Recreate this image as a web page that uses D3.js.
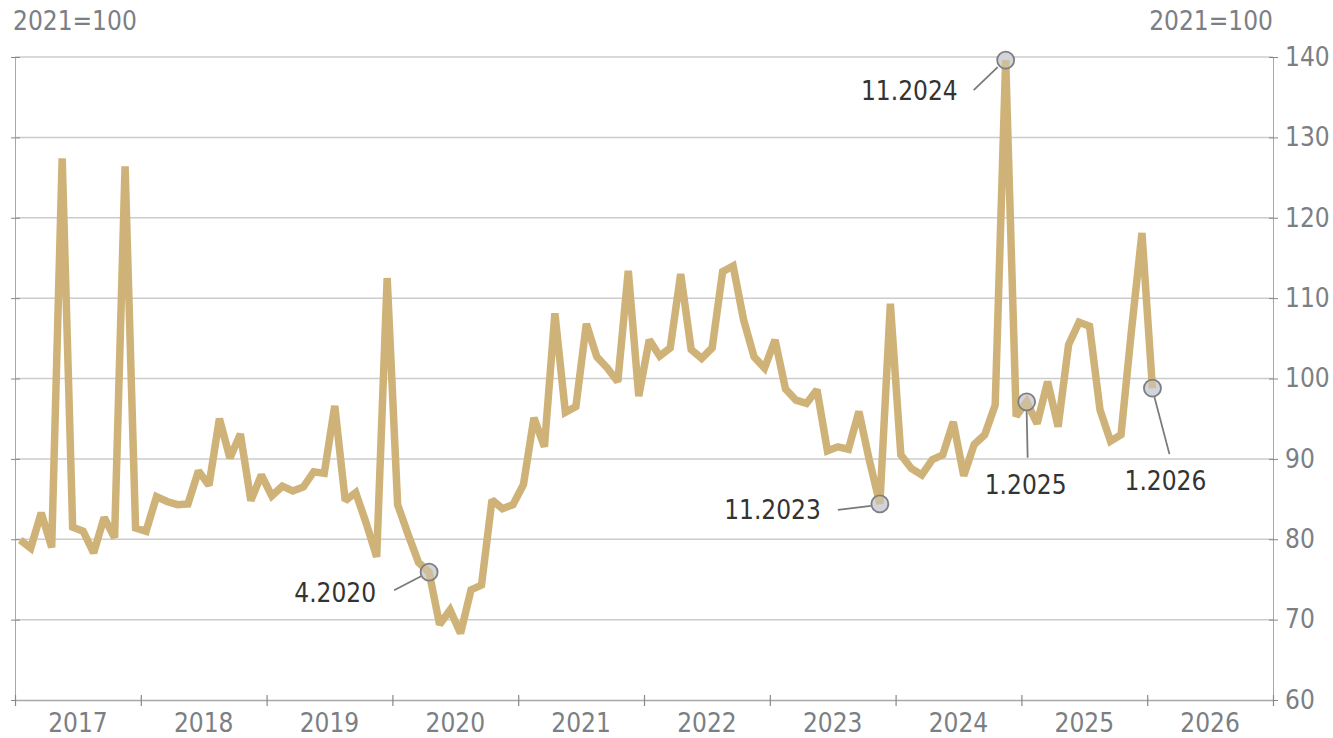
<!DOCTYPE html>
<html>
<head>
<meta charset="utf-8">
<script src="https://cdn.jsdelivr.net/npm/d3@7"></script>
<style>
  html, body { margin: 0; padding: 0; background: #fff; }
  svg { display: block; }
  text { font-family: "DejaVu Sans Condensed", "DejaVu Sans", sans-serif; font-stretch: condensed; }
</style>
</head>
<body>
<svg id="chart" width="1333" height="738"></svg>
<script>
// ---- Data ----
const startYear = 2017;
const yearLabels = ["2017","2018","2019","2020","2021","2022","2023","2024","2025","2026"];
const yTicks = [60,70,80,90,100,110,120,130,140];
const unitLabel = "2021=100";
// Monthly index values, Jan 2017 .. Jan 2026
const values2017 = [79.9, 78.9, 83.3, 79.0, 127.4, 81.5, 81.0, 78.3, 82.7, 80.2, 126.4, 81.4];
const values2018 = [81.0, 85.3, 84.7, 84.3, 84.4, 88.5, 86.7, 95.0, 90.1, 93.1, 84.8, 88.0];
const values2019 = [85.4, 86.6, 86.0, 86.5, 88.4, 88.2, 96.6, 84.8, 85.8, 82.0, 77.8, 112.5];
const values2020 = [84.3, 80.6, 77.1, 75.9, 69.4, 71.2, 68.3, 73.7, 74.3, 84.9, 83.8, 84.3];
const values2021 = [86.8, 95.1, 91.5, 108.1, 95.8, 96.5, 106.8, 102.7, 101.3, 99.6, 113.4, 97.8];
const values2022 = [104.8, 102.8, 103.8, 113.0, 103.6, 102.5, 103.8, 113.3, 114.0, 107.3, 102.7, 101.3];
const values2023 = [104.8, 98.7, 97.3, 96.9, 98.6, 91.0, 91.5, 91.2, 95.9, 89.8, 84.4, 109.3];
const values2024 = [90.5, 88.8, 88.0, 89.9, 90.5, 94.6, 87.9, 91.8, 93.0, 96.7, 139.6, 95.3];
const values2025 = [97.1, 94.4, 99.6, 94.0, 104.2, 107.0, 106.5, 96.1, 92.2, 93.0, 106.0, 118.1];
const values2026 = [98.8];
const values = [].concat(values2017, values2018, values2019, values2020, values2021,
  values2022, values2023, values2024, values2025, values2026);
// Highlighted months (month-index from Jan 2017) and their labels
const highlightIdx = [39, 82, 94, 96, 108];
const highlightLabels = ["4.2020", "11.2023", "11.2024", "1.2025", "1.2026"];

// ---- Layout / style ----
const plotL = 15, plotR = 1273, plotT = 57, plotB = 700;
const lineColor = "#cfb278";
const gridColor = "#cccccc";
const axisColor = "#a8a8a8";
const tickTextColor = "#7b7f84";
const fontSize = 26;
// label placement relative to the marked point
const labelStyle = [
  { l1: [-35, 18], l2: [-8, 4], t: [-53, 30], anchor: "end" },
  { l1: [-42, 6],  l2: [-9, 2], t: [-59, 15], anchor: "end" },
  { l1: [-32, 30], l2: [-8, 7], t: [-48, 40], anchor: "end" },
  { l1: [1, 56],   l2: [0, 9],  t: [-1, 92], anchor: "middle" },
  { l1: [17, 66],  l2: [2, 9],  t: [13, 102], anchor: "middle" }
];

const svg = d3.select("#chart");
const x = d3.scaleLinear().domain([0, yearLabels.length * 12]).range([plotL, plotR]);
const y = d3.scaleLinear().domain([60, 140]).range([plotB, plotT]);

// grid
svg.append("g").selectAll("line").data(yTicks.filter(d => d > 60)).join("line")
  .attr("x1", plotL).attr("x2", plotR)
  .attr("y1", d => y(d)).attr("y2", d => y(d))
  .attr("stroke", gridColor).attr("stroke-width", 1.5);

// right axis
const yAxisR = d3.axisRight(y).tickValues(yTicks).tickSize(0).tickPadding(12);
const gR = svg.append("g").attr("transform", `translate(${plotR},0)`).call(yAxisR);
gR.select(".domain").attr("stroke", axisColor).attr("stroke-width", 1);
gR.selectAll("text").attr("fill", tickTextColor).attr("font-size", fontSize)
  .style("font-family", '"DejaVu Sans Condensed", "DejaVu Sans", sans-serif');
gR.selectAll(".tick").append("line").attr("x1", -4).attr("x2", 5).attr("stroke", "#888").attr("stroke-width", 1);

// left axis (no labels)
const yAxisL = d3.axisLeft(y).tickValues(yTicks).tickSize(0).tickFormat("");
const gL = svg.append("g").attr("transform", `translate(${plotL},0)`).call(yAxisL);
gL.select(".domain").attr("stroke", axisColor).attr("stroke-width", 1);
gL.selectAll(".tick").append("line").attr("x1", -4).attr("x2", 5).attr("stroke", "#888").attr("stroke-width", 1);

// bottom axis
const yearTicks = d3.range(0, yearLabels.length * 12 + 1, 12);
const xAxis = d3.axisBottom(x).tickValues(yearTicks).tickSize(0).tickFormat("");
const gB = svg.append("g").attr("transform", `translate(0,${plotB})`).call(xAxis);
gB.select(".domain").attr("stroke", axisColor).attr("stroke-width", 1.5);
gB.selectAll(".tick").append("line").attr("y1", -5).attr("y2", 6).attr("stroke", "#888").attr("stroke-width", 1.2);
svg.append("g").selectAll("text").data(yearLabels).join("text")
  .attr("x", (d, i) => x(i * 12 + 6)).attr("y", 732)
  .attr("text-anchor", "middle").attr("fill", tickTextColor).attr("font-size", fontSize)
  .text(d => d);

// unit labels
svg.append("text").attr("x", 13).attr("y", 30).attr("fill", tickTextColor)
  .attr("font-size", fontSize).text(unitLabel);
svg.append("text").attr("x", plotR).attr("y", 30).attr("text-anchor", "end").attr("fill", tickTextColor)
  .attr("font-size", fontSize).text(unitLabel);

// highlight fills and leader lines (under the line)
const hlUnder = svg.append("g");
const hlOver = svg.append("g");
highlightIdx.forEach((idx, k) => {
  const px = x(idx + 0.5), py = y(values[idx]);
  const s = labelStyle[k];
  hlUnder.append("line")
    .attr("x1", px + s.l1[0]).attr("y1", py + s.l1[1])
    .attr("x2", px + s.l2[0]).attr("y2", py + s.l2[1])
    .attr("stroke", "#7a7a7a").attr("stroke-width", 1.8);
  hlUnder.append("circle").attr("cx", px).attr("cy", py).attr("r", 8.5)
    .attr("fill", "#d1d5dd");
  hlOver.append("text").attr("x", px + s.t[0]).attr("y", py + s.t[1])
    .attr("text-anchor", s.anchor).attr("fill", "#333").attr("font-size", fontSize)
    .text(highlightLabels[k]);
});

// line
const line = d3.line().x((d, i) => x(i + 0.5)).y(d => y(d));
svg.append("path").datum(values)
  .attr("d", line).attr("fill", "none")
  .attr("stroke", lineColor).attr("stroke-width", 7.5)
  .attr("stroke-linejoin", "miter").attr("stroke-miterlimit", 2);

// highlight outlines on top
const hlRing = svg.append("g");
highlightIdx.forEach((idx) => {
  hlRing.append("circle").attr("cx", x(idx + 0.5)).attr("cy", y(values[idx])).attr("r", 8.5)
    .attr("fill", "rgba(209,213,221,0.35)").attr("stroke", "#7e7e7e").attr("stroke-width", 1.8);
});
</script>
</body>
</html>
